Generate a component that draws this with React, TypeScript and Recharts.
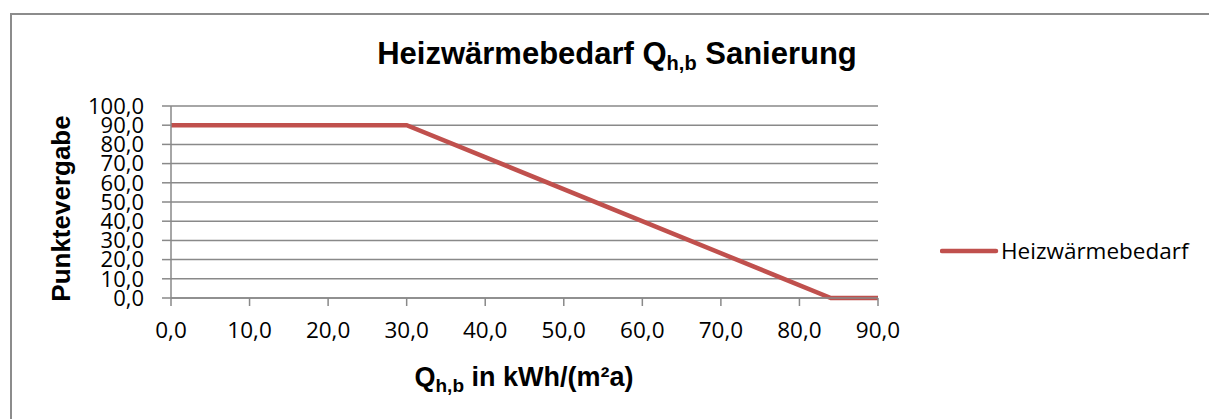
import React from 'react';
import { LineChart, Line, XAxis, YAxis, CartesianGrid, Legend } from 'recharts';

const qValues = [0, 30, 84, 90];
const punkte = [90, 90, 0, 0];
const xTicks = [0, 10, 20, 30, 40, 50, 60, 70, 80, 90];
const yTicks = [0, 10, 20, 30, 40, 50, 60, 70, 80, 90, 100];
const seriesName = 'Heizwärmebedarf';

const data = qValues.map((q, i) => ({ q, punkte: punkte[i] }));

const fmt = (v: number) => v.toFixed(1).replace('.', ',');

const GRID = '#898989';
const RED = '#C0504D';
const TICK_FONT = '"Open Sans", sans-serif';
const BOLD_FONT = '"Liberation Sans", Arial, sans-serif';

const LegendContent = () => (
  <div style={{ display: 'flex', alignItems: 'center' }}>
    <svg width={61} height={20} style={{ display: 'block' }}>
      <line x1={2} y1={10} x2={56} y2={10} stroke={RED} strokeWidth={4.5} strokeLinecap="round" />
    </svg>
    <span style={{ fontFamily: TICK_FONT, fontSize: 22.5, color: '#000', lineHeight: '20px' }}>{seriesName}</span>
  </div>
);

export default function App() {
  return (
    <div style={{ position: 'absolute', left: 0, top: 0, width: 1209, height: 419, overflow: 'hidden', background: '#fff' }}>
      <div style={{ position: 'absolute', left: 10, top: 13, width: 1240, height: 440, border: '2px solid #8c8c8c', boxSizing: 'border-box' }} />
      <div style={{ position: 'absolute', left: 0, top: 0 }}>
        <LineChart width={1209} height={419} data={data} margin={{ top: 106, right: 331, bottom: 0, left: 0 }}>
          <CartesianGrid horizontal vertical={false} stroke={GRID} strokeWidth={1.5} />
          <XAxis
            type="number"
            dataKey="q"
            domain={[0, 90]}
            ticks={xTicks}
            tickFormatter={fmt}
            interval={0}
            tickSize={8}
            tickMargin={16}
            stroke={GRID}
            strokeWidth={1.5}
            tick={{ fill: '#000', fontFamily: TICK_FONT, fontSize: 22.5 }}
            height={121}
          />
          <YAxis
            type="number"
            domain={[0, 100]}
            ticks={yTicks}
            tickFormatter={fmt}
            interval={0}
            tickSize={9}
            tickMargin={18}
            width={171}
            stroke={GRID}
            strokeWidth={1.5}
            tick={{ fill: '#000', fontFamily: TICK_FONT, fontSize: 22 }}
          />
          <Legend
            layout="horizontal"
            align="center"
            verticalAlign="middle"
            wrapperStyle={{ position: 'absolute', left: 940, top: 241, width: 260 }}
            content={<LegendContent />}
          />
          <Line
            type="linear"
            dataKey="punkte"
            name={seriesName}
            stroke={RED}
            strokeWidth={4.5}
            dot={false}
            activeDot={false}
            isAnimationActive={false}
          />
        </LineChart>
      </div>
      <svg width={1209} height={419} style={{ position: 'absolute', left: 0, top: 0, pointerEvents: 'none' }}>
        <text x={617} y={64} textAnchor="middle" fontFamily={BOLD_FONT} fontWeight="bold" fontSize={31} fill="#000">
          Heizwärmebedarf Q<tspan fontSize={20} dy={6}>h,b</tspan><tspan dy={-6}> Sanierung</tspan>
        </text>
        <text x={524} y={386} textAnchor="middle" fontFamily={BOLD_FONT} fontWeight="bold" fontSize={27} fill="#000">
          Q<tspan fontSize={19} dy={6}>h,b</tspan><tspan dy={-6}> in kWh/(m²a)</tspan>
        </text>
        <text transform="translate(70,208.5) rotate(-90)" textAnchor="middle" fontFamily={BOLD_FONT} fontWeight="bold" fontSize={26} fill="#000">
          Punktevergabe
        </text>
      </svg>
    </div>
  );
}
